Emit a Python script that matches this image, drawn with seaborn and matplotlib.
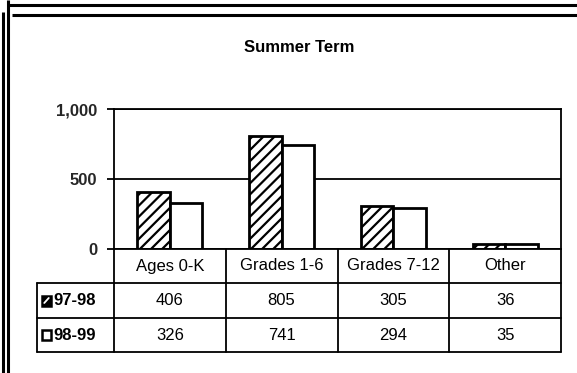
import matplotlib
matplotlib.use("Agg")
import matplotlib.pyplot as plt
import matplotlib.transforms as mtransforms
from matplotlib.lines import Line2D
from matplotlib.patches import Rectangle
import seaborn as sns
import pandas as pd

# ---- data -------------------------------------------------------------
categories = ["Ages 0-K", "Grades 1-6", "Grades 7-12", "Other"]
series_names = ["97-98", "98-99"]
values_9798 = [406, 805, 305, 36]
values_9899 = [326, 741, 294, 35]
y_ticks = [0, 500, 1000]
y_tick_labels = ["0", "500", "1,000"]
title = "Summer Term"

df = pd.DataFrame({
    "category": categories * 2,
    "year": [series_names[0]] * len(categories) + [series_names[1]] * len(categories),
    "enrollment": values_9798 + values_9899,
})

# ---- style ------------------------------------------------------------
sns.set_theme(style="white")
plt.rcParams["font.family"] = ["Liberation Sans", "DejaVu Sans"]
plt.rcParams["hatch.linewidth"] = 1.6
plt.rcParams["hatch.color"] = "black"

W, H = 577, 373
fig = plt.figure(figsize=(W / 100, H / 100), dpi=100)
fig.patch.set_facecolor("white")


def fx(px):
    return px / W


def fy(py):
    return 1 - py / H


# ---- bar chart --------------------------------------------------------
ax = fig.add_axes([fx(114), fy(249), fx(561) - fx(114), fy(109) - fy(249)])
sns.barplot(data=df, x="category", y="enrollment", hue="year",
            order=categories, hue_order=series_names,
            palette=["white", "white"], saturation=1,
            edgecolor="black", linewidth=2.0, width=0.58,
            legend=False, ax=ax)
for bar in ax.containers[0]:
    bar.set_hatch("///")

ax.set_xlim(-0.5, len(categories) - 0.5)
ax.set_ylim(0, 1000)
ax.set_yticks(y_ticks)
ax.set_yticklabels(y_tick_labels, fontsize=12, fontweight="bold")
ax.set_xticks([])
ax.set_xlabel("")
ax.set_ylabel("")
ax.yaxis.grid(True, color="black", linewidth=1.3)
ax.set_axisbelow(True)
for side in ["left", "right", "top", "bottom"]:
    ax.spines[side].set_visible(True)
    ax.spines[side].set_color("black")
    ax.spines[side].set_linewidth(1.3)
ax.tick_params(axis="y", direction="out", length=5, width=1.3,
               color="black", pad=7, left=True)
ax.set_facecolor("white")

# ---- data table under the bars -----------------------------------------
tr = mtransforms.blended_transform_factory(ax.transData, fig.transFigure)
px_per_unit = (561 - 114) / len(categories)
label_left = -0.5 - (114 - 37) / px_per_unit
right = len(categories) - 0.5
row_tops = [249, 283, 318, 352]
lw = 1.3

for y in row_tops[1:]:
    fig.add_artist(Line2D([label_left, right], [fy(y), fy(y)], transform=tr,
                          color="black", lw=lw))
fig.add_artist(Line2D([label_left, label_left], [fy(283), fy(352)], transform=tr,
                      color="black", lw=lw))
for i in range(len(categories) + 1):
    x = i - 0.5
    fig.add_artist(Line2D([x, x], [fy(249), fy(352)], transform=tr,
                          color="black", lw=lw))

for i, cat in enumerate(categories):
    fig.text(i, fy(266), cat, transform=tr, ha="center", va="center",
             fontsize=12, color="black")
    fig.text(i, fy(300.5), f"{values_9798[i]:,}", transform=tr, ha="center",
             va="center", fontsize=12, color="black")
    fig.text(i, fy(335), f"{values_9899[i]:,}", transform=tr, ha="center",
             va="center", fontsize=12, color="black")

# row labels with legend keys
key_x = -0.5 - (114 - 42) / px_per_unit
key_w = 9 / px_per_unit
text_x = -0.5 - (114 - 53) / px_per_unit
for idx, (name, yc) in enumerate([(series_names[0], 300.5), (series_names[1], 335)]):
    filled = idx == 0
    key = Rectangle((key_x, fy(yc + 5)), key_w, 10 / H, transform=tr,
                    facecolor="black" if filled else "white",
                    edgecolor="black", lw=1.8)
    fig.add_artist(key)
    if filled:
        fig.add_artist(Line2D([key_x + key_w * 0.25, key_x + key_w * 0.75],
                              [fy(yc + 2.5), fy(yc - 2.5)], transform=tr,
                              color="white", lw=1.3))
    fig.text(text_x, fy(yc), name, transform=tr, ha="left", va="center",
             fontsize=12, fontweight="bold", color="black")

# ---- title --------------------------------------------------------------
fig.text(fx(299), fy(47.5), title, ha="center", va="center", fontsize=12,
         fontweight="bold", color="black")

# ---- page frame -----------------------------------------------------------
frame = dict(color="black", lw=2.2, solid_capstyle="butt")
fig.add_artist(Line2D([fx(7.5), fx(577)], [fy(5), fy(5)], **frame))
fig.add_artist(Line2D([fx(12), fx(577)], [fy(15), fy(15)], **frame))
fig.add_artist(Line2D([fx(7.5), fx(7.5)], [fy(0), fy(373)], **frame))
fig.add_artist(Line2D([fx(2.5), fx(2.5)], [fy(12), fy(373)], **frame))

fig.savefig("out.png", dpi=100, facecolor="white")
